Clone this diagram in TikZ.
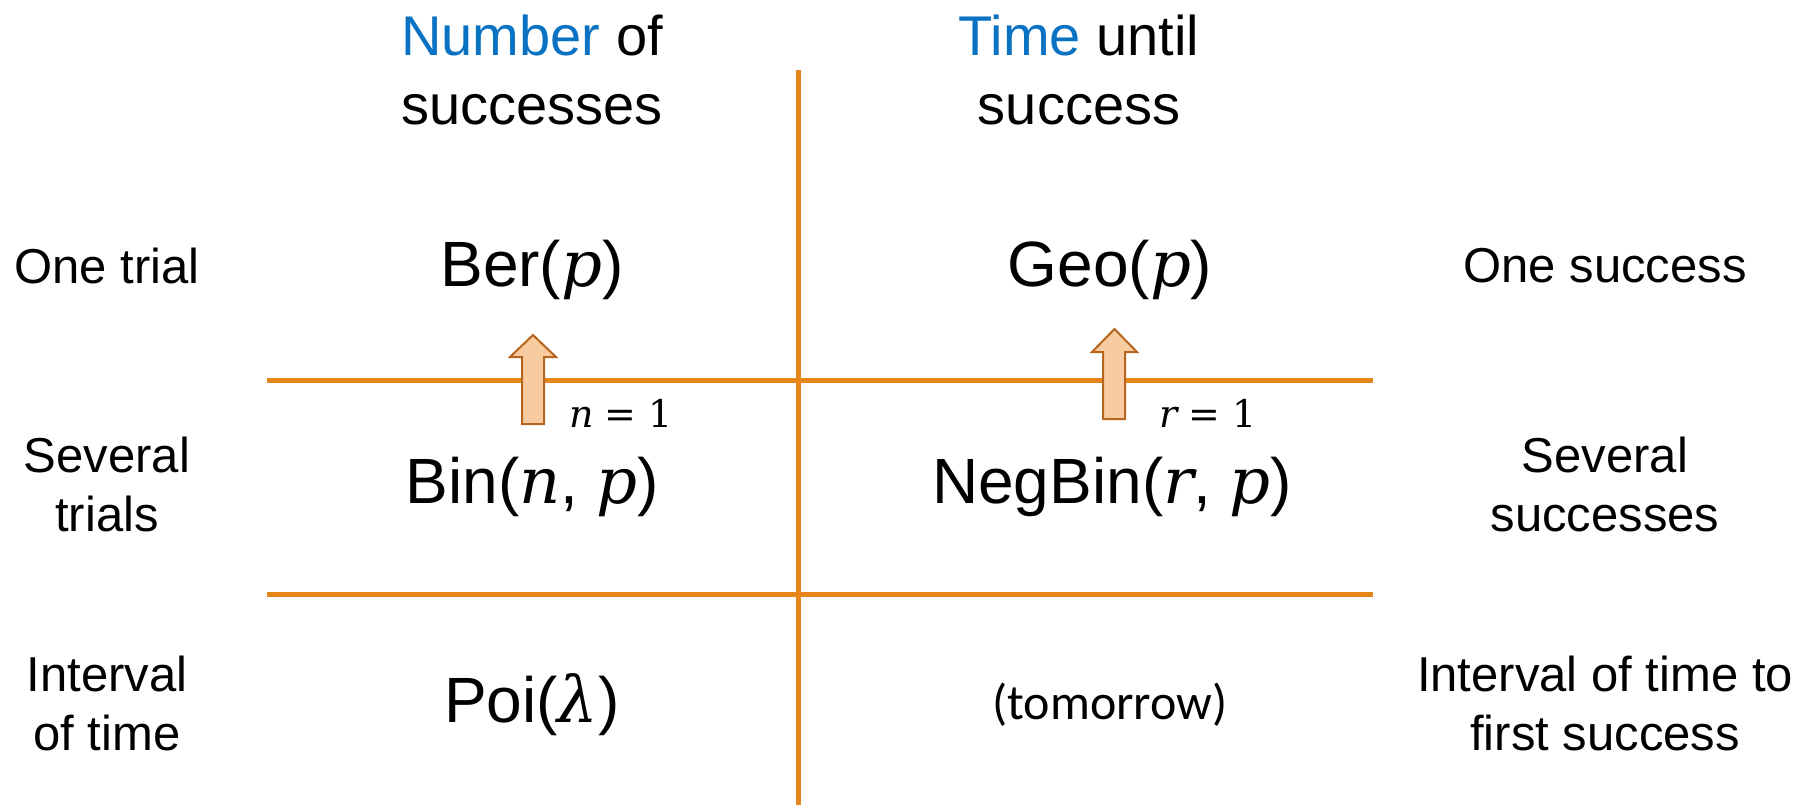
\documentclass[tikz,border=0pt]{standalone}
\usepackage{fontspec}
\setmainfont{Liberation Sans}
\newfontfamily\calib{Carlito}
\newfontfamily\mfont{DejaVu Serif}
\newcommand\mvar[1]{{\mfont\itshape #1}}
\newcommand\mup[1]{{\mfont #1}}
\definecolor{lineor}{HTML}{E6861A}
\definecolor{hblue}{HTML}{0A72C2}
\definecolor{arfill}{HTML}{F8CBA0}
\definecolor{ardraw}{HTML}{B5651D}
\tikzset{
  grid/.style={draw=lineor, line width=5pt},
  hdr/.style={align=center, font=\fontsize{56}{69}\selectfont, inner sep=0pt},
  side/.style={align=center, font=\fontsize{49}{59}\selectfont, inner sep=0pt},
  dist/.style={font=\fontsize{64}{70}\selectfont, inner sep=0pt},
  small/.style={font=\calib\fontsize{50}{56}\selectfont, inner sep=0pt},
  lab/.style={font=\fontsize{38}{44}\selectfont, inner sep=0pt},
  uparrow/.style={draw=ardraw, fill=arfill, line width=2pt, line join=miter}
}
\begin{document}
\begin{tikzpicture}[x=1pt,y=-1pt]
\useasboundingbox (0,0) rectangle (1819,805);
% grid
\coordinate (vt) at (798,70);
\coordinate (vb) at (798,805);
\coordinate (h1l) at (267,380);
\coordinate (h1r) at (1373,380);
\coordinate (h2l) at (267,594);
\coordinate (h2r) at (1373,594);
\draw[grid] (vt) -- (vb);
\draw[grid] (h1l) -- (h1r);
\draw[grid] (h2l) -- (h2r);
% headers
\node[hdr] (hnum) at (532,70) {\textcolor{hblue}{Number} of\\successes};
\node[hdr] (htime) at (1079,70) {\textcolor{hblue}{Time} until\\success};
% left labels
\node[side] (l1) at (107,266) {One trial};
\node[side] (l2) at (107,484) {Several\\trials};
\node[side] (l3) at (107,703) {Interval\\of time};
% right labels
\node[side] (r1) at (1605,266) {One success};
\node[side] (r2) at (1605,484) {Several\\successes};
\node[side] (r3) at (1605,703) {Interval of time to\\first success};
% distributions
\node[dist] (ber) at (532,270) {Ber(\mvar{p})};
\node[dist] (geo) at (1110,270) {Geo(\mvar{p})};
\node[dist] (bin) at (532,487) {Bin(\mvar{n}, \mvar{p})};
\node[dist] (neg) at (1112,487) {NegBin(\mvar{r}, \mvar{p})};
\node[dist] (poi) at (532,705) {Poi(\mvar{λ})};
\node[small] (tom) at (1110,705) {(tomorrow)};
% arrows
\draw[uparrow] (522,424) -- (522,357) -- (510,357) -- (533,335) -- (556,357) -- (544,357) -- (544,424) -- cycle;
\draw[uparrow] (1103,419) -- (1103,352) -- (1092,352) -- (1114.5,329) -- (1137,352) -- (1125,352) -- (1125,419) -- cycle;
\node[lab] (n1) at (621,413) {\mvar{n} \mup{= 1}};
\node[lab] (rr1) at (1208,413) {\mvar{r} \mup{= 1}};
\end{tikzpicture}
\end{document}
